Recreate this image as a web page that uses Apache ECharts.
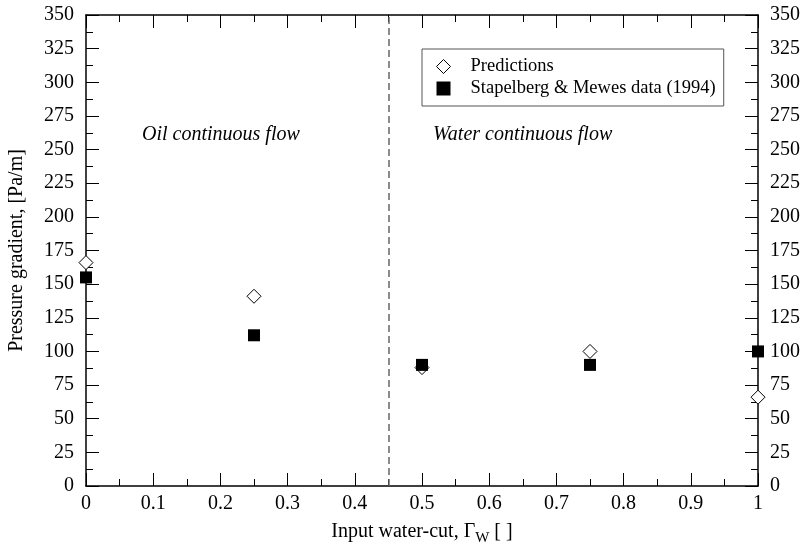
<!DOCTYPE html>
<html>
<head>
<meta charset="utf-8">
<script src="https://cdn.jsdelivr.net/npm/echarts@6/dist/echarts.min.js"></script>
<style>
  html, body { margin: 0; padding: 0; background: #fff; }
  #chart { width: 802px; height: 548px; }
</style>
</head>
<body>
<div id="chart"></div>
<script>
// input water-cut values
const waterCut = [0, 0.25, 0.5, 0.75, 1]
// predicted pressure gradient [Pa/m]
const predictions = [166, 141, 88, 100, 66]
// Stapelberg & Mewes data (1994)
const measured = [155, 112, 90, 90, 100]
// phase inversion point
const phaseBoundary = 0.45
const regionLabels = ['Oil continuous flow', 'Water continuous flow']

const FONT = 'Liberation Serif'

const chart = echarts.init(document.getElementById('chart'))

const tickStyle = { show: true, inside: true, length: 13, lineStyle: { color: '#000', width: 1 } }
const minorStyle = { show: true, splitNumber: 2, length: 7, lineStyle: { color: '#000', width: 1 } }
const lineStyle = { show: true, onZero: false, lineStyle: { color: '#000', width: 1.5 } }
const labelStyle = { fontFamily: FONT, fontSize: 20, color: '#000' }

const option = {
  animation: false,
  grid: { left: 86, right: 44, top: 15, bottom: 62, outerBoundsMode: 'none', containLabel: false },
  legend: {
    orient: 'vertical',
    left: 422,
    top: 49,
    padding: [8, 8, 8, 14],
    itemGap: 3,
    itemWidth: 14,
    itemHeight: 14,
    borderColor: '#555',
    borderWidth: 1,
    itemStyle: { borderWidth: 1 },
    textStyle: { fontFamily: FONT, fontSize: 18.5, color: '#000', padding: [0, 0, 0, 15] },
    data: ['Predictions', 'Stapelberg & Mewes data (1994)']
  },
  graphic: [
    { type: 'text', left: 142, top: 125, style: { text: regionLabels[0], font: 'italic 20px "Liberation Serif"', fill: '#000' } },
    { type: 'text', left: 433, top: 125, style: { text: regionLabels[1], font: 'italic 20px "Liberation Serif"', fill: '#000' } }
  ],
  xAxis: [
    {
      type: 'value', min: 0, max: 1, interval: 0.1,
      axisLine: lineStyle, axisTick: tickStyle, minorTick: minorStyle,
      splitLine: { show: false },
      axisLabel: { ...labelStyle, margin: 8 },
      name: 'Input water-cut, Γ{sub|W} [ ]',
      nameLocation: 'middle',
      nameGap: 32,
      nameTextStyle: {
        ...labelStyle,
        rich: { sub: { fontFamily: FONT, fontSize: 15, color: '#000', padding: [13, 0, 0, 0] } }
      }
    },
    {
      type: 'value', min: 0, max: 1, interval: 0.1, position: 'top',
      axisLine: lineStyle, axisTick: tickStyle, minorTick: minorStyle,
      splitLine: { show: false }, axisLabel: { show: false }
    }
  ],
  yAxis: [
    {
      type: 'value', min: 0, max: 350, interval: 25,
      axisLine: lineStyle, axisTick: tickStyle, minorTick: minorStyle,
      splitLine: { show: false },
      axisLabel: { ...labelStyle, margin: 12 },
      name: 'Pressure gradient, [Pa/m]',
      nameLocation: 'middle',
      nameGap: 59,
      nameTextStyle: labelStyle
    },
    {
      type: 'value', min: 0, max: 350, interval: 25, position: 'right',
      axisLine: lineStyle, axisTick: tickStyle, minorTick: minorStyle,
      splitLine: { show: false },
      axisLabel: { ...labelStyle, margin: 12 }
    }
  ],
  series: [
    {
      name: 'Predictions',
      type: 'scatter',
      symbol: 'diamond',
      symbolSize: 14,
      clip: false,
      itemStyle: { color: '#fff', borderColor: '#000', borderWidth: 1, opacity: 1 },
      data: waterCut.map((x, i) => [x, predictions[i]]),
      markLine: {
        silent: true,
        symbol: 'none',
        label: { show: false },
        lineStyle: { color: '#666', type: [7, 4], width: 1.5 },
        data: [{ xAxis: phaseBoundary }]
      }
    },
    {
      name: 'Stapelberg & Mewes data (1994)',
      type: 'scatter',
      symbol: 'rect',
      symbolSize: 12,
      clip: false,
      itemStyle: { color: '#000', opacity: 1 },
      data: waterCut.map((x, i) => [x, measured[i]])
    }
  ]
}

chart.setOption(option)
</script>
</body>
</html>
